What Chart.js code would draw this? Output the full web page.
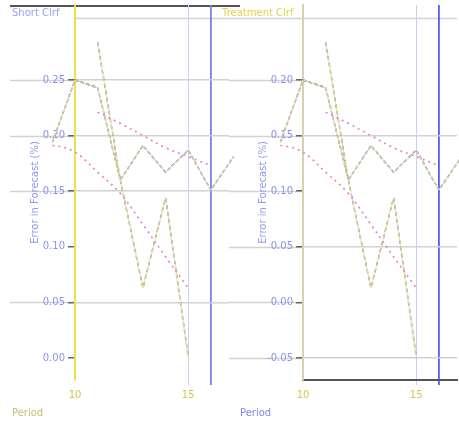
<!DOCTYPE html>
<html>
<head>
<meta charset="utf-8">
<script src="https://cdn.jsdelivr.net/npm/chart.js@4.4.1/dist/chart.umd.min.js"></script>
<style>
html, body { margin: 0; padding: 0; background: #fff; overflow: hidden; }
#wrap { position: relative; width: 459px; height: 421px; overflow: hidden; }
.panel { position: absolute; top: 0; height: 421px; }
</style>
</head>
<body>
<div id="wrap">
  <div class="panel" style="left:0;width:459px"><canvas id="shortChart"></canvas></div>
  <div class="panel" style="left:212px;width:247px"><canvas id="treatChart"></canvas></div>
</div>
<script>
// periods on the x axis
var xTicks = [10, 15];
var periodsA = [7, 8, 9, 10, 11, 12, 13, 14, 15, 16, 17];
var periodsBlack = [10, 11];
var periodsB = [11, 12, 13, 14, 15];
var periodsUpper = [11, 12, 13, 14, 15, 16];
var periodsLower = [7, 8, 9, 10, 11, 12, 13, 14, 15];

// Short Clrf panel
var shortTicks = [0.25, 0.20, 0.15, 0.10, 0.05, 0.00];
var shortGrid = [0.25, 0.20, 0.15, 0.05];
var shortA = [0.181, 0.138, 0.194, 0.250, 0.243, 0.160, 0.191, 0.167, 0.187, 0.151, 0.181];
var shortBlack = [0.250, 0.243];
var shortB = [0.284, 0.160, 0.063, 0.144, 0.001];
var shortUpper = [0.221, 0.211, 0.200, 0.189, 0.181, 0.173];
var shortLower = [0.178, 0.187, 0.191, 0.185, 0.167, 0.148, 0.120, 0.091, 0.063];

// Treatment Clrf panel
var treatTicks = [0.20, 0.15, 0.10, 0.05, 0.00, -0.05];
var treatGrid = [0.15, 0.05, -0.05];
var treatA = [0.131, 0.088, 0.144, 0.200, 0.193, 0.110, 0.141, 0.117, 0.137, 0.101, 0.131];
var treatBlack = [0.200, 0.193];
var treatB = [0.234, 0.110, 0.013, 0.094, -0.049];
var treatUpper = [0.171, 0.161, 0.150, 0.139, 0.131, 0.123];
var treatLower = [0.128, 0.137, 0.141, 0.135, 0.117, 0.098, 0.070, 0.041, 0.013];

function pts(xs, ys) {
    return xs.map(function(x, i) { return {x: x, y: ys[i]}; });
}

// long gray rules reaching left of the axis, plus the top rules and panel title
var panelDeco = {
    id: 'panelDeco',
    beforeDraw: function(chart, args, o) {
        var ctx = chart.ctx, area = chart.chartArea, ys = chart.scales.y;
        ctx.save();
        ctx.strokeStyle = '#d2d2d2';
        ctx.lineWidth = 1.5;
        o.reach.forEach(function(v) {
            var py = Math.round(ys.getPixelForValue(v)) + 0.5;
            ctx.beginPath();
            ctx.moveTo(o.from, py);
            ctx.lineTo(area.left, py);
            ctx.stroke();
        });
        // thin gray rule under the title
        ctx.beginPath();
        ctx.moveTo(o.grayFrom, area.top + 13.5);
        ctx.lineTo(area.right, area.top + 13.5);
        ctx.stroke();
        if (o.darkTop) {
            ctx.strokeStyle = '#555';
            ctx.lineWidth = 2;
            ctx.beginPath();
            ctx.moveTo(o.from, area.top + 1);
            ctx.lineTo(area.right + 11, area.top + 1);
            ctx.stroke();
        }
        ctx.font = '10px "DejaVu Sans", sans-serif';
        ctx.fillStyle = o.titleColor;
        ctx.textBaseline = 'middle';
        ctx.fillText(o.title, o.titleX, area.top + 8);
        ctx.restore();
    }
};

function makeChart(id, p) {
    var ctx = document.getElementById(id).getContext('2d');
    var datasets = [{
        data: pts(periodsLower, p.lower), borderColor: '#ea7ad2', borderWidth: 1.6,
        borderDash: [2, 4], tension: 0.35
    }, {
        data: pts(periodsUpper, p.upper), borderColor: '#ea7ad2', borderWidth: 1.6,
        borderDash: [2, 4], tension: 0.35
    }, {
        data: pts(periodsA, p.a), borderColor: '#f0e27a', borderWidth: 1
    }, {
        data: pts(periodsA, p.a), borderColor: '#6f7cee', borderWidth: 1.5, borderDash: [4, 2]
    }, {
        data: pts(periodsB, p.b), borderColor: '#f0e27a', borderWidth: 1
    }, {
        data: pts(periodsB, p.b), borderColor: '#6f7cee', borderWidth: 1.5, borderDash: [4, 3]
    }, {
        data: pts(periodsBlack, p.black), borderColor: '#555555', borderWidth: 1.5, borderDash: [3, 3]
    }];
    datasets.forEach(function(d) {
        d.pointRadius = 0;
        d.clip = false;
        d.fill = false;
    });

    return new Chart(ctx, {
        type: 'line',
        data: {datasets: datasets},
        plugins: [panelDeco],
        options: {
            responsive: true,
            maintainAspectRatio: false,
            animation: false,
            layout: {padding: {left: p.padLeft, right: p.padRight, top: 5, bottom: 0}},
            plugins: {
                legend: {display: false},
                tooltip: {enabled: false},
                subtitle: {
                    display: true, text: 'Period', position: 'bottom', align: 'start',
                    color: p.periodColor, font: {size: 10, family: '"DejaVu Sans", sans-serif'},
                    padding: {top: 2, bottom: 2}
                },
                panelDeco: {
                    reach: p.reach, from: p.reachFrom, grayFrom: p.grayFrom, darkTop: p.darkTop,
                    title: p.title, titleX: p.titleX, titleColor: p.titleColor
                }
            },
            scales: {
                x: {
                    type: 'linear', min: 10, max: 16.8,
                    afterBuildTicks: function(s) {
                        s.ticks = xTicks.concat([16]).map(function(v) { return {value: v}; });
                    },
                    afterFit: function(s) { s.height = 25; s.paddingLeft = 0; s.paddingRight = 0; },
                    ticks: {
                        autoSkip: false, maxRotation: 0, padding: 4,
                        color: '#d6c64c', font: {size: 10, family: '"DejaVu Sans", sans-serif'},
                        callback: function(v) { return xTicks.indexOf(v) >= 0 ? String(v) : ''; }
                    },
                    grid: {
                        drawTicks: true, tickLength: 5,
                        color: function(c) {
                            if (c.tick.value === 16) return p.edgeColor;
                            if (c.tick.value === 15) return '#c9cdf8';
                            return 'rgba(0,0,0,0)';
                        },
                        lineWidth: function(c) { return c.tick.value === 16 ? 1.8 : 1; }
                    },
                    border: {display: p.bottomBorder, color: '#555', width: 2}
                },
                y: {
                    min: p.yMin, max: p.yMax,
                    afterBuildTicks: function(s) {
                        s.ticks = p.ticks.map(function(v) { return {value: v}; });
                    },
                    afterFit: function(s) { s.width = 63; s.paddingTop = 0; s.paddingBottom = 0; },
                    ticks: {
                        padding: 3, color: '#8a93ec',
                        font: {size: 10, family: '"DejaVu Sans", sans-serif'},
                        callback: function(v) { return v.toFixed(2); }
                    },
                    grid: {
                        tickLength: 7, tickColor: '#666', lineWidth: 1.5,
                        color: function(c) {
                            return p.grid.indexOf(c.tick.value) >= 0 ? '#d2d2d2' : 'rgba(0,0,0,0)';
                        }
                    },
                    border: {color: p.axisColor, width: 2},
                    title: {
                        display: true, text: 'Error in Forecast (%)', color: '#8f97ee',
                        font: {size: 10, family: '"DejaVu Sans", sans-serif'},
                        padding: {top: 17, bottom: 0}
                    }
                }
            }
        }
    });
}

makeChart('shortChart', {
    a: shortA, black: shortBlack, b: shortB, upper: shortUpper, lower: shortLower,
    ticks: shortTicks, grid: shortGrid, reach: shortGrid,
    yMin: -0.0198, yMax: 0.3174,
    padLeft: 12, padRight: 230, reachFrom: 10, grayFrom: 75, darkTop: true,
    title: 'Short Clrf', titleX: 12, titleColor: '#9aa2f2',
    axisColor: '#f0e04e', edgeColor: '#7482f2', periodColor: '#c8bc70', bottomBorder: false
});

makeChart('treatChart', {
    a: treatA, black: treatBlack, b: treatB, upper: treatUpper, lower: treatLower,
    ticks: treatTicks, grid: treatGrid, reach: treatTicks,
    yMin: -0.0698, yMax: 0.2674,
    padLeft: 28, padRight: 2, reachFrom: 17, grayFrom: 17, darkTop: false,
    title: 'Treatment Clrf', titleX: 10, titleColor: '#e2d24a',
    axisColor: '#d8d0b0', edgeColor: '#4d5ff0', periodColor: '#7d88ee', bottomBorder: true
});
</script>
</body>
</html>
